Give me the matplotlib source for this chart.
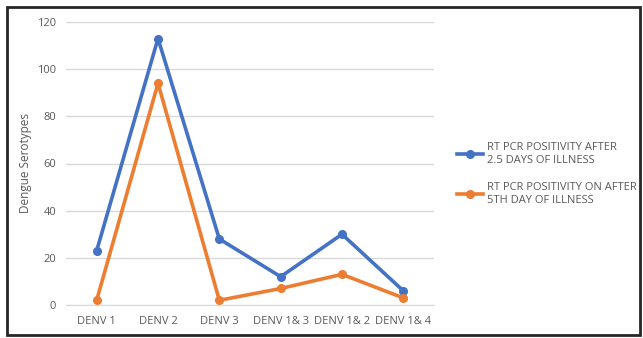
import matplotlib
matplotlib.use("Agg")
import matplotlib.pyplot as plt
from matplotlib.patches import Rectangle

categories = ["DENV 1", "DENV 2", "DENV 3", "DENV 1& 3", "DENV 1& 2", "DENV 1& 4"]
after_2_5_days = [23, 113, 28, 12, 30, 6]
after_5th_day = [2, 94, 2, 7, 13, 3]
series_labels = ["RT PCR POSITIVITY AFTER\n2.5 DAYS OF ILLNESS",
                 "RT PCR POSITIVITY ON AFTER\n5TH DAY OF ILLNESS"]
yticks = [0, 20, 40, 60, 80, 100, 120]

plt.rcParams['font.family'] = ['Open Sans', 'DejaVu Sans']
txt = '#595959'
blue = '#4472C4'
orange = '#ED7D31'

fig = plt.figure(figsize=(6.43, 3.38), dpi=100)
ax = fig.add_axes([66/643, 1-305/338, (434-66)/643, (305-22)/338])

x = list(range(len(categories)))
ax.plot(x, after_2_5_days, color=blue, lw=2.6, marker='o', ms=5.5, label=series_labels[0], solid_joinstyle='round')
ax.plot(x, after_5th_day, color=orange, lw=2.6, marker='o', ms=5.5, label=series_labels[1], solid_joinstyle='round')

ax.set_xlim(-0.5, len(categories)-0.5)
ax.set_ylim(0, 120)
ax.set_yticks(yticks)
ax.set_xticks(x)
ax.set_xticklabels(categories)
ax.grid(axis='y', color='#d9d9d9', lw=1)
ax.set_axisbelow(True)
for s in ['top', 'right', 'left']:
    ax.spines[s].set_visible(False)
ax.spines['bottom'].set_color('#d9d9d9')
ax.tick_params(axis='both', length=0, labelsize=8, colors=txt, pad=7)
ax.tick_params(axis='x', pad=8)
ax.set_ylabel("Dengue Serotypes", fontsize=8.5, color=txt, labelpad=4)

leg = fig.legend(loc='upper left', bbox_to_anchor=(447/643, 1-132/338), frameon=False,
                 fontsize=8, labelcolor=txt, handlelength=2.3, handletextpad=0.4,
                 labelspacing=1.5)

fig.patches.append(Rectangle((7/643, 3/338), 633/643, 328/338, transform=fig.transFigure,
                             fill=False, edgecolor='#262626', lw=2))

fig.savefig("out.png", dpi=100)
